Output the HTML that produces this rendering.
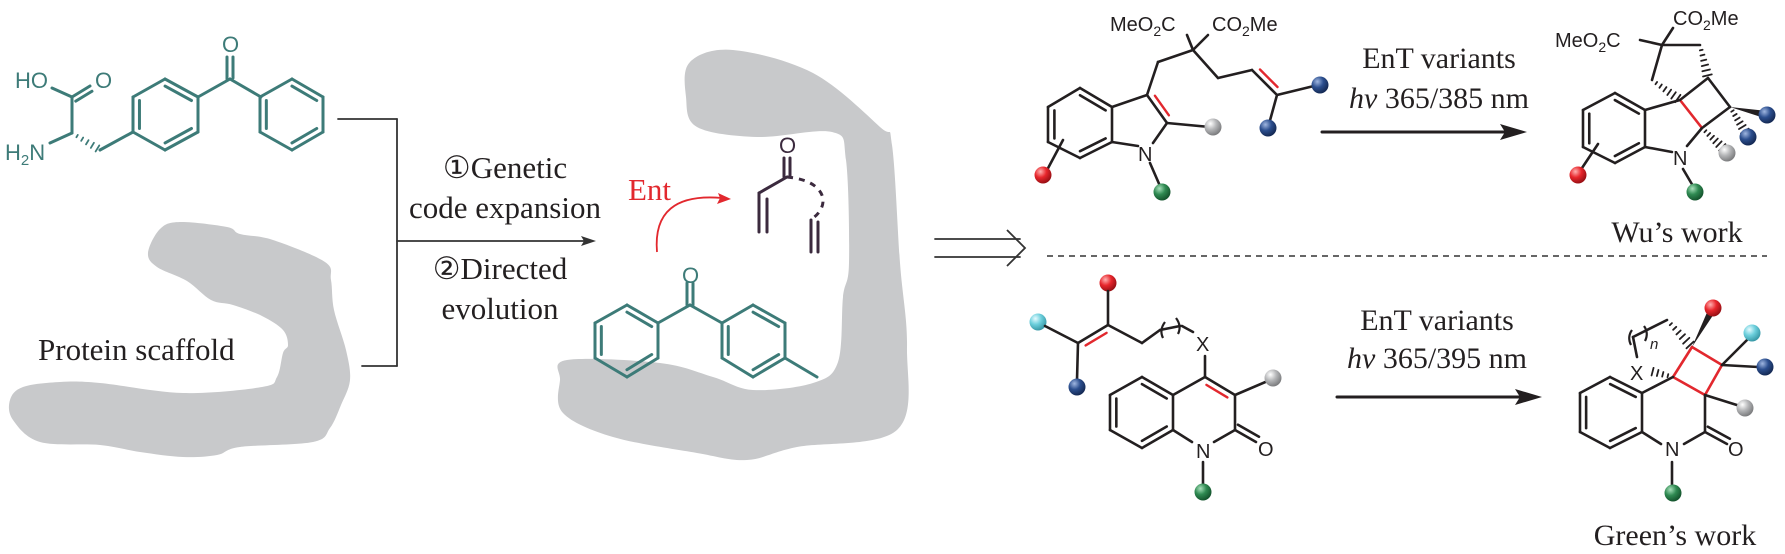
<!DOCTYPE html>
<html><head><meta charset="utf-8">
<style>
html,body{margin:0;padding:0;background:#fff;}
svg{display:block;}
.ser{font-family:"Liberation Serif",serif;fill:#231f20;}
.san{font-family:"Liberation Sans",sans-serif;fill:#231f20;}
.teal{fill:#3d7b78;}
</style></head>
<body>
<svg id="s" width="1785" height="554" viewBox="0 0 1785 554" xmlns="http://www.w3.org/2000/svg">
<defs>
<radialGradient id="gr" cx="35%" cy="30%" r="70%"><stop offset="0" stop-color="#ffb0b0"/><stop offset="0.5" stop-color="#e8262c"/><stop offset="1" stop-color="#9a1015"/></radialGradient>
<radialGradient id="gb" cx="35%" cy="30%" r="70%"><stop offset="0" stop-color="#9fb6e0"/><stop offset="0.5" stop-color="#2c4f8f"/><stop offset="1" stop-color="#152a55"/></radialGradient>
<radialGradient id="gg" cx="35%" cy="30%" r="70%"><stop offset="0" stop-color="#ffffff"/><stop offset="0.5" stop-color="#b5b6b8"/><stop offset="1" stop-color="#7d7e80"/></radialGradient>
<radialGradient id="gn" cx="35%" cy="30%" r="70%"><stop offset="0" stop-color="#a8e0bb"/><stop offset="0.5" stop-color="#2f8a52"/><stop offset="1" stop-color="#15552e"/></radialGradient>
<radialGradient id="gc" cx="35%" cy="30%" r="70%"><stop offset="0" stop-color="#e6fbff"/><stop offset="0.5" stop-color="#6ccfdc"/><stop offset="1" stop-color="#3a9aa8"/></radialGradient>
</defs>
<g id="bg"></g>
<g id="mol"></g>

<!-- left texts -->
<text class="san teal" x="15" y="88" font-size="22">HO</text>
<text class="san teal" x="95" y="88" font-size="22">O</text>
<text class="san teal" x="5" y="160" font-size="22">H<tspan font-size="15" dy="5">2</tspan><tspan dy="-5">N</tspan></text>
<text class="san teal" x="222" y="52" font-size="22">O</text>

<text class="ser" x="505" y="178" font-size="31" text-anchor="middle">①Genetic</text>
<text class="ser" x="505" y="218" font-size="31" text-anchor="middle">code expansion</text>
<text class="ser" x="500" y="279" font-size="31" text-anchor="middle">②Directed</text>
<text class="ser" x="500" y="319" font-size="31" text-anchor="middle">evolution</text>
<text class="ser" x="38" y="360" font-size="31">Protein scaffold</text>

<!-- middle -->
<text x="628" y="200" font-size="31" font-family="Liberation Serif,serif" fill="#e2282e">Ent</text>
<text class="san" x="779" y="153" font-size="22" fill="#3b2a3e" style="fill:#3b2a3e">O</text>
<text class="san teal" x="682" y="283" font-size="22">O</text>

<!-- top right -->
<text class="san" x="1110" y="31" font-size="20">MeO<tspan font-size="14" dy="5">2</tspan><tspan dy="-5">C</tspan></text>
<text class="san" x="1212" y="31" font-size="20">CO<tspan font-size="14" dy="5">2</tspan><tspan dy="-5">Me</tspan></text>
<text class="san" x="1138" y="161" font-size="20">N</text>
<text class="ser" x="1439" y="68" font-size="30" text-anchor="middle">EnT variants</text>
<text class="ser" x="1439" y="108" font-size="30" text-anchor="middle"><tspan font-style="italic">hv</tspan> 365/385 nm</text>
<text class="san" x="1555" y="47" font-size="20">MeO<tspan font-size="14" dy="5">2</tspan><tspan dy="-5">C</tspan></text>
<text class="san" x="1673" y="25" font-size="20">CO<tspan font-size="14" dy="5">2</tspan><tspan dy="-5">Me</tspan></text>
<text class="san" x="1673" y="165" font-size="20">N</text>
<text class="ser" x="1677" y="242" font-size="30" text-anchor="middle">Wu’s work</text>

<!-- bottom right -->
<text class="san" x="1196" y="351" font-size="20">X</text>
<text class="san" x="1196" y="458" font-size="20">N</text>
<text class="san" x="1258" y="456" font-size="20">O</text>
<text class="ser" x="1437" y="330" font-size="30" text-anchor="middle">EnT variants</text>
<text class="ser" x="1437" y="368" font-size="30" text-anchor="middle"><tspan font-style="italic">hv</tspan> 365/395 nm</text>
<text class="san" x="1630" y="380" font-size="20">X</text>
<text class="san" x="1665" y="456" font-size="20">N</text>
<text class="san" x="1728" y="456" font-size="20">O</text>
<text class="san" x="1650" y="349" font-size="15" font-style="italic">n</text>
<text class="ser" x="1675" y="545" font-size="30" text-anchor="middle">Green’s work</text>
</svg>
<script>
(function(){
var NS="http://www.w3.org/2000/svg";
var bg=document.getElementById('bg'), M=document.getElementById('mol');
function el(t,a,p){var e=document.createElementNS(NS,t);for(var k in a)e.setAttribute(k,a[k]);(p||M).appendChild(e);return e;}
var K="#231f20",T="#3d7b78",R="#e2282e",P="#3b2a3e";
function L(x1,y1,x2,y2,c,w,ex){var a={x1:x1,y1:y1,x2:x2,y2:y2,stroke:c||K,'stroke-width':w||2.6,'stroke-linecap':'round'};if(ex)for(var k in ex)a[k]=ex[k];return el('line',a);}
function inner(p,q,c,col,w){var f=0.2;L(p[0]+(c[0]-p[0])*f,p[1]+(c[1]-p[1])*f,q[0]+(c[0]-q[0])*f,q[1]+(c[1]-q[1])*f,col,w);}
function ring(pts,dbl,col,w,dcol){var cx=0,cy=0;pts.forEach(function(p){cx+=p[0];cy+=p[1];});cx/=pts.length;cy/=pts.length;
 for(var i=0;i<pts.length;i++){var p=pts[i],q=pts[(i+1)%pts.length];L(p[0],p[1],q[0],q[1],col,w);}
 (dbl||[]).forEach(function(i){inner(pts[i],pts[(i+1)%pts.length],[cx,cy],dcol||col,w);});}
function par(p,q,d,col,w,sh){sh=sh==null?0.15:sh;var dx=q[0]-p[0],dy=q[1]-p[1],l=Math.hypot(dx,dy),nx=-dy/l*d,ny=dx/l*d;
 L(p[0]+dx*sh+nx,p[1]+dy*sh+ny,q[0]-dx*sh+nx,q[1]-dy*sh+ny,col,w);}
function hash(p,q,n,wm,col){var dx=q[0]-p[0],dy=q[1]-p[1],l=Math.hypot(dx,dy),nx=-dy/l,ny=dx/l;
 for(var i=1;i<=n;i++){var t=i/(n+0.5),x=p[0]+dx*t,y=p[1]+dy*t,h=wm*t/2+0.8;L(x-nx*h,y-ny*h,x+nx*h,y+ny*h,col||K,1.8);}}
function wedge(p,q,wm,col){var dx=q[0]-p[0],dy=q[1]-p[1],l=Math.hypot(dx,dy),nx=-dy/l*wm/2,ny=dx/l*wm/2;
 el('polygon',{points:p[0]+','+p[1]+' '+(q[0]+nx)+','+(q[1]+ny)+' '+(q[0]-nx)+','+(q[1]-ny),fill:col||K});}
function ball(x,y,g){el('circle',{cx:x,cy:y,r:8.5,fill:'url(#'+g+')'});}
function smooth(pts){var d='M'+pts[0][0]+','+pts[0][1],n=pts.length;
 for(var i=0;i<n;i++){var p0=pts[(i-1+n)%n],p1=pts[i],p2=pts[(i+1)%n],p3=pts[(i+2)%n];
 d+=' C'+(p1[0]+(p2[0]-p0[0])/6)+','+(p1[1]+(p2[1]-p0[1])/6)+' '+(p2[0]-(p3[0]-p1[0])/6)+','+(p2[1]-(p3[1]-p1[1])/6)+' '+p2[0]+','+p2[1];}
 return d+'Z';}
var G="#c8c9cb";
el('path',{d:smooth([[148,253],[160,229],[180,222],[227,227],[240,234],[273,240],[325,262],[331,280],[334,310],[346,350],[350,380],[341,405],[330,428],[313,442],[240,447],[217,455],[183,457],[140,452],[100,445],[40,442],[13,420],[10,400],[23,387],[60,382],[100,383],[183,393],[262,387],[277,377],[283,353],[288,345],[283,330],[262,316],[233,305],[211,300],[187,281],[157,267]]),fill:G},bg);
el('path',{d:smooth([[690,62],[733,50],[813,73],[880,127],[892,145],[900,263],[907,347],[897,430],[797,447],[747,460],[697,453],[613,437],[563,413],[560,380],[567,360],[660,363],[713,377],[753,390],[813,383],[838,362],[843,297],[849,263],[846,160],[832,132],[757,137],[697,127],[686,97]]),fill:G},bg);

// left molecule
var w=3;
L(52,88,72,97,T,w);L(72,97,90,86,T,w);par([72,97],[90,86],5.5,T,w,0.05);
L(72,97,72,133,T,w);L(72,133,50,143,T,w);hash([72,133],[100,150],5,6,T);L(100,150,133,132,T,w);
ring([[133,97],[165,79],[198,97],[198,132],[165,150],[133,132]],[1,3,5],T,w);
L(198,97,230,79,T,w);L(230,79,261,97,T,w);L(227,57,227,79,T,w);L(233,57,233,78,T,w);
ring([[260,97],[292,79],[323,97],[323,132],[292,150],[260,132]],[1,3,5],T,w);
// bracket & arrow
L(338,119,397,119,"#333",1.8);L(397,119,397,366,"#333",1.8);L(362,366,397,366,"#333",1.8);
L(397,241,585,241,"#333",1.8);el('polygon',{points:'596,241 581,236 584,241 581,246',fill:'#333'});

// middle benzophenone
ring([[595,323],[627,305],[658,323],[658,358],[627,377],[595,358]],[1,3,5],T,w);
L(658,323,690,305,T,w);L(690,305,722,323,T,w);L(687,283,687,305,T,w);L(693,283,693,305,T,w);
ring([[722,323],[753,305],[785,323],[785,358],[753,377],[722,358]],[1,3,5],T,w);
L(785,358,817,377,T,w);
// enone
L(784,158,784,177,P,3);L(790,158,790,176,P,3);L(787,177,759,193,P,3);L(759,193,759,232,P,3);L(767,199,767,232,P,3);
el('path',{d:'M787,177 Q818,180 823,198 Q824,210 813,218',fill:'none',stroke:P,'stroke-width':3,'stroke-dasharray':'6,6'});
L(811,220,811,252,P,3);L(818,222,818,252,P,3);
// Ent arrow
el('path',{d:'M657,252 Q652,192 722,198',fill:'none',stroke:R,'stroke-width':1.8});
el('polygon',{points:'731,199 718,193 720,198 717,204',fill:R});

// double arrow + dashed
L(935,239,1020,239,"#333",1.8);L(935,257,1020,257,"#333",1.8);
el('polyline',{points:'1007,230 1025,248 1007,266',fill:'none',stroke:'#333','stroke-width':1.8});
L(1047,256,1767,256,"#333",1.4,{'stroke-dasharray':'6,5','stroke-linecap':'butt'});

// top-left reactant (indole)
L(1193,50,1187,35);L(1193,50,1208,35);L(1193,50,1158,62);L(1158,62,1147,95);
L(1193,50,1218,78);L(1218,78,1252,70);L(1252,70,1277,95);par([1252,70],[1277,95],-6,R,2.4);
L(1277,95,1318,85);ball(1320,85,'gb');L(1277,95,1269,124);ball(1268,128,'gb');
L(1147,95,1167,123);par([1147,95],[1167,123],-6,R,2.4);L(1167,123,1210,127);ball(1213,127,'gg');
L(1167,123,1153,143);L(1138,146,1112,142);L(1147,95,1112,107);
ring([[1112,107],[1080,88],[1048,107],[1048,142],[1080,158],[1112,142]],[0,2,4]);
L(1063,140,1046,172);ball(1043,175,'gr');L(1150,163,1160,186);ball(1162,192,'gn');
// arrow top
L(1322,132,1508,132,K,3);el('polygon',{points:'1527,132 1500,124 1505,132 1500,140',fill:K});
// top product
L(1662,45,1640,40);L(1662,45,1673,28);L(1662,45,1700,45);L(1662,45,1652,80);
hash([1700,45],[1708,78],6,8);hash([1652,80],[1680,100],6,8);
L(1680,100,1708,78);L(1708,78,1730,107);L(1730,107,1702,128);L(1680,100,1702,128,R,2.6);
wedge([1730,107],[1763,114],7);ball(1767,115,'gb');hash([1730,107],[1746,133],6,8);ball(1748,137,'gb');
hash([1702,128],[1724,149],6,8);ball(1727,153,'gg');
L(1702,128,1687,146);L(1672,152,1645,147);L(1680,100,1645,110);
ring([[1645,110],[1615,93],[1583,110],[1583,147],[1615,163],[1645,147]],[0,2,4]);
L(1598,144,1580,171);ball(1578,175,'gr');L(1683,169,1693,186);ball(1695,192,'gn');

// bottom reactant
ball(1108,283,'gr');L(1108,291,1108,325);ball(1038,322,'gc');L(1045,326,1078,343);
L(1078,343,1108,325);par([1078,343],[1108,325],6,R,2.4);L(1078,343,1077,380);ball(1077,387,'gb');
L(1108,325,1142,343);L(1142,343,1160,330);
el('path',{d:'M1165,322 q-6,8 -2,16 M1176,318 q6,8 2,16',fill:'none',stroke:K,'stroke-width':2.2});
L(1160,330,1180,326);L(1182,326,1193,332);
L(1205,356,1205,377);
L(1205,377,1235,395);par([1205,377],[1235,395],6,R,2.4);L(1235,395,1270,380);ball(1273,378,'gg');
L(1235,395,1235,430);L(1235,430,1256,442);par([1235,430],[1256,442],-6,K,2.6,0);
L(1235,430,1214,442);L(1192,442,1173,430);L(1205,377,1173,395);
ring([[1173,395],[1142,377],[1110,395],[1110,430],[1142,448],[1173,430]],[0,2,4]);
L(1203,462,1203,485);ball(1203,492,'gn');
// arrow bottom
L(1337,397,1522,397,K,3);el('polygon',{points:'1542,397 1515,389 1520,397 1515,405',fill:K});
// bottom product
el('polygon',{points:'1673,377 1692,347 1705,395 1722,365',fill:'none'});
L(1692,347,1722,365,R);L(1722,365,1705,395,R);L(1705,395,1673,377,R);L(1673,377,1692,347,R);
wedge([1692,347],[1711,312],7);ball(1713,308,'gr');
L(1722,365,1750,337);ball(1752,333,'gc');L(1722,365,1758,367);ball(1765,367,'gb');
L(1705,395,1740,406);ball(1745,408,'gg');
L(1705,395,1705,432);L(1705,432,1727,444);par([1705,432],[1727,444],-6,K,2.6,0);
L(1705,432,1684,444);L(1661,444,1642,432);L(1673,377,1642,393);
ring([[1642,393],[1610,377],[1580,393],[1580,432],[1610,448],[1642,432]],[0,2,4]);
L(1672,462,1672,486);ball(1673,493,'gn');
hash([1673,377],[1650,371],4,7);
L(1637,357,1633,337);L(1633,337,1667,320);hash([1667,320],[1692,347],6,9);
el('path',{d:'M1632,330 q-5,7 -1,15',fill:'none',stroke:K,'stroke-width':2.2});
el('path',{d:'M1644,326 q5,7 1,15',fill:'none',stroke:K,'stroke-width':2.2});
})();
</script>
</body></html>
